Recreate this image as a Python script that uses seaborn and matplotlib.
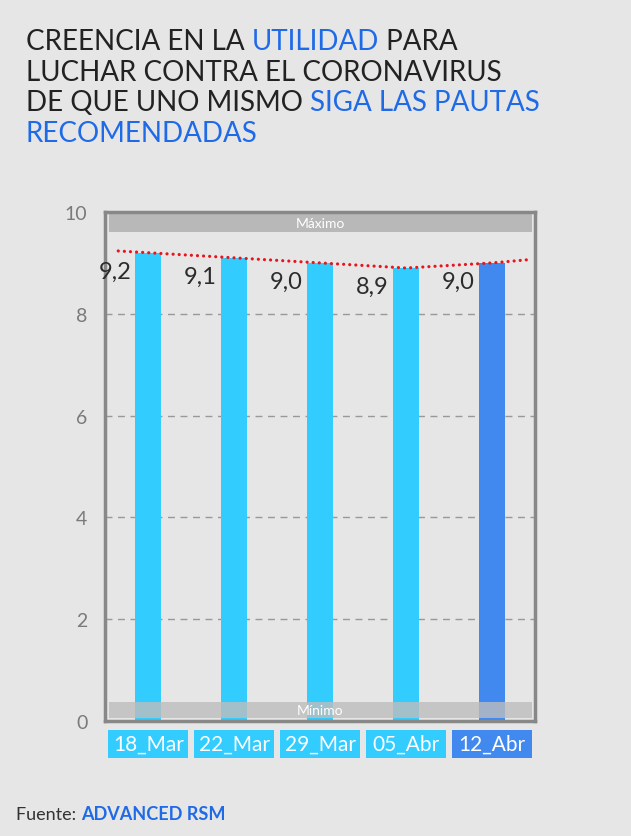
import numpy as np
import pandas as pd
import matplotlib
matplotlib.use('Agg')
import matplotlib.pyplot as plt
import seaborn as sb
from matplotlib.patches import Rectangle

fechas = ['18_Mar', '22_Mar', '29_Mar', '05_Abr', '12_Abr']
valores = [9.2, 9.1, 9.0, 8.9, 9.0]
etiquetas = ['9,2', '9,1', '9,0', '8,9', '9,0']
colores = ['#33CCFF', '#33CCFF', '#33CCFF', '#33CCFF', '#4189EE']
yticks = [0, 2, 4, 6, 8, 10]

BG = '#E6E6E6'
GRIS = '#888888'
AZUL = '#1F6AE6'

sb.set_style('white')
plt.rcParams['font.family'] = ['Lato', 'DejaVu Sans']

fig = plt.figure(figsize=(6.31, 8.37), dpi=100, facecolor=BG)
ax = fig.add_axes([0.167, 0.1374, 0.681, 0.6081])
ax.set_facecolor(BG)

df = pd.DataFrame({'fecha': fechas, 'valor': valores})
sb.barplot(data=df, x='fecha', y='valor', hue='fecha', palette=colores,
           width=0.3, legend=False, ax=ax, saturation=1, linewidth=0)

ax.set_xlim(-0.5, 4.5)
ax.set_ylim(0, 10)
ax.set_xlabel('')
ax.set_ylabel('')

# grid and frame
ax.set_yticks(yticks)
ax.set_yticklabels([str(v) for v in yticks], color='#7A7A7A', fontsize=14)
for v in yticks[1:-1]:
    ax.axhline(v, color='#999999', linestyle=(0, (5, 4)), linewidth=1, zorder=0)
for s in ax.spines.values():
    s.set_visible(True)
    s.set_color(GRIS)
    s.set_linewidth(2.5)
ax.tick_params(axis='y', length=7, width=2, color=GRIS, pad=6)
ax.set_xticks(range(len(fechas)))
ax.set_xticklabels([])
ax.tick_params(axis='x', which='major', length=0)
ax.set_xticks(np.arange(-0.5, len(fechas)), minor=True)
ax.tick_params(axis='x', which='minor', length=11, width=2, color=GRIS)

# Maximo / Minimo bands
xt = ax.get_xaxis_transform()
ax.add_patch(Rectangle((-0.46, 9.6), 4.92, 0.36, facecolor='#B8B8B8',
                       edgecolor='none', zorder=1))
ax.text(2, 9.78, 'Máximo', ha='center', va='center', color='white', fontsize=10)
ax.add_patch(Rectangle((-0.46, 0.06), 4.92, 0.31, facecolor='#BDBDBD',
                       edgecolor='none', alpha=0.8, zorder=3))
ax.text(2, 0.22, 'Mínimo', ha='center', va='center', color='white',
        fontsize=10, zorder=4)

# trend line (dotted red)
xs = np.arange(len(valores), dtype=float)
lx = np.concatenate([[-0.35], xs, [4.4]])
ly = np.concatenate([[valores[0] + 0.35 * (valores[0] - valores[1])], valores,
                     [valores[-1] + 0.6 * (valores[-1] - valores[-2])]])
ax.plot(lx, ly, color='#E8141C', linestyle=(0, (0.01, 1.9)), linewidth=2.3,
        dash_capstyle='round', zorder=5)

# value labels
for i, (v, t) in enumerate(zip(valores, etiquetas)):
    ax.text(i - 0.2, v - 0.37, t, ha='right', va='center', fontsize=17,
            color='#2B2B2B', zorder=6)

# x labels as colored boxes
for i, (f, c) in enumerate(zip(fechas, colores)):
    ax.add_patch(Rectangle((i - 0.465, -0.0727), 0.93, 0.055, transform=xt,
                           facecolor=c, edgecolor='none', clip_on=False))
    ax.text(i, -0.045, f, transform=xt, ha='center', va='center',
            color='white', fontsize=15)

# title with mixed colors
partes = [
    [('CREENCIA EN LA ', '#222222'), ('UTILIDAD', AZUL), (' PARA', '#222222')],
    [('LUCHAR CONTRA EL CORONAVIRUS', '#222222')],
    [('DE QUE UNO MISMO ', '#222222'), ('SIGA LAS PAUTAS', AZUL)],
    [('RECOMENDADAS', AZUL)],
]
y0 = 1 - 42 / 837
dy = 30.7 / 837
for k, linea in enumerate(partes):
    last = None
    for txt, col in linea:
        if last is None:
            last = fig.text(26 / 631, y0 - k * dy, txt, color=col, fontsize=20,
                            va='center', ha='left')
        else:
            last = ax.annotate(txt, xy=(1, 0), xycoords=last, color=col,
                               fontsize=20, va='bottom', ha='left',
                               annotation_clip=False)

# footer
f1 = fig.text(16 / 631, 1 - 815 / 837, 'Fuente: ', color='#333333',
              fontsize=13, va='center')
ax.annotate('ADVANCED RSM', xy=(1, 0), xycoords=f1, color=AZUL, fontsize=13,
            fontweight='bold', va='bottom', ha='left', annotation_clip=False)

fig.savefig('out.png', dpi=100, facecolor=BG)
